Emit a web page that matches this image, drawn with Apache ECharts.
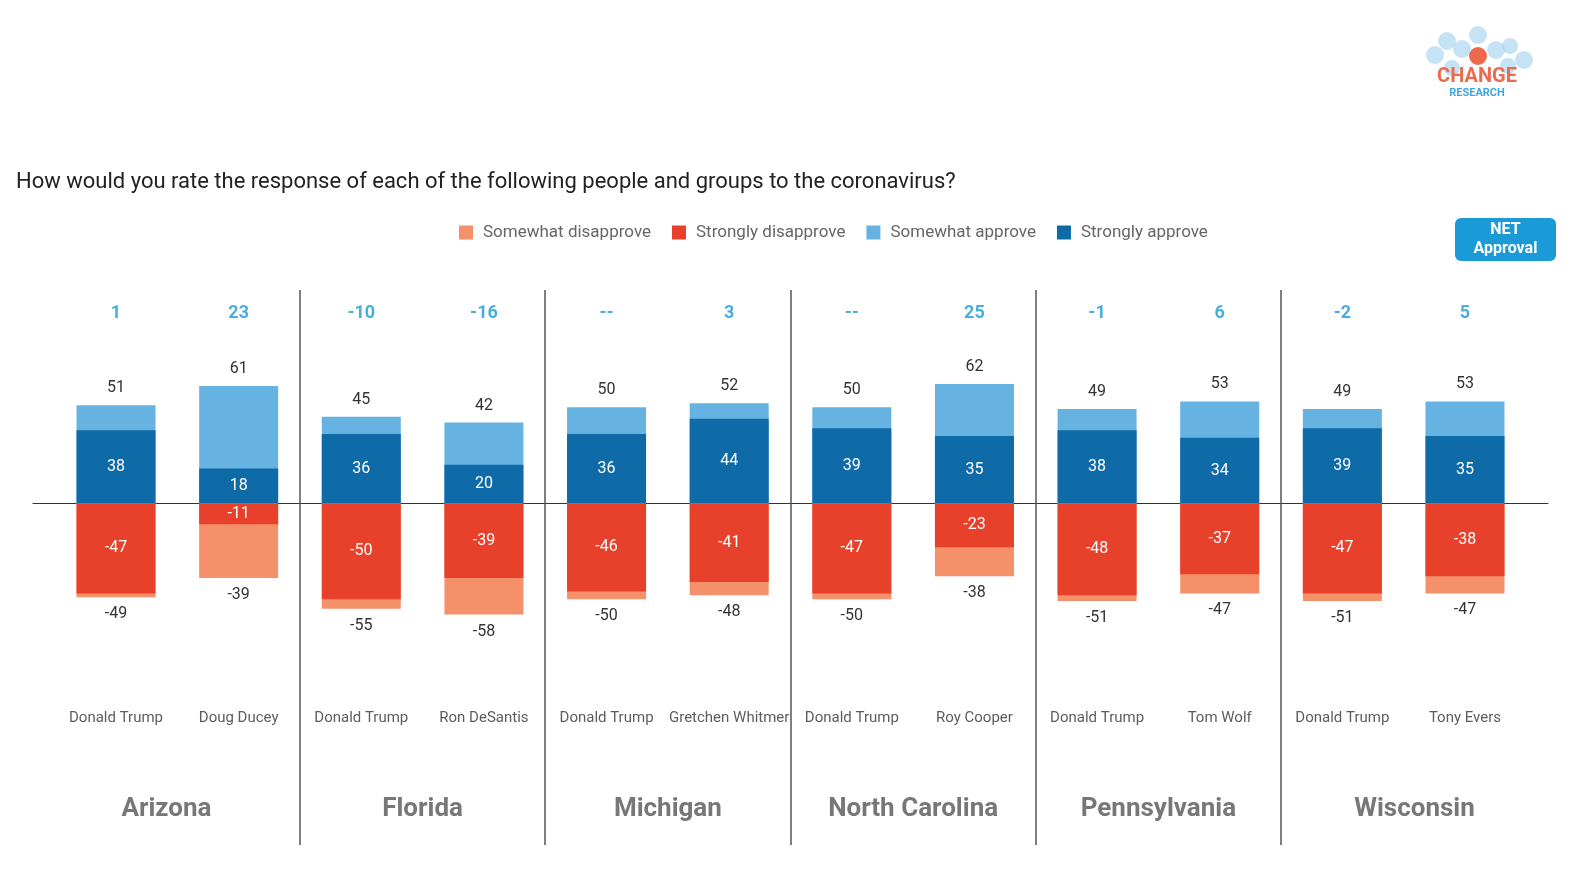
<!DOCTYPE html>
<html>
<head>
<meta charset="utf-8">
<script src="https://cdn.jsdelivr.net/npm/echarts@6/dist/echarts.min.js"></script>
<style>
html,body{margin:0;padding:0;background:#fff;}
#chart{width:1596px;height:876px;}
</style>
</head>
<body>
<div id="chart"></div>
<script>
// ---- data ----
const names = ['Donald Trump','Doug Ducey','Donald Trump','Ron DeSantis','Donald Trump','Gretchen Whitmer','Donald Trump','Roy Cooper','Donald Trump','Tom Wolf','Donald Trump','Tony Evers'];
const states = ['Arizona','Florida','Michigan','North Carolina','Pennsylvania','Wisconsin'];
const totalApprove = [51,61,45,42,50,52,50,62,49,53,49,53];
const strongApprove = [38,18,36,20,36,44,39,35,38,34,39,35];
const totalDisapprove = [-49,-39,-55,-58,-50,-48,-50,-38,-51,-47,-51,-47];
const strongDisapprove = [-47,-11,-50,-39,-46,-41,-47,-23,-48,-37,-47,-38];
const netApproval = ['1','23','-10','-16','--','3','--','25','-1','6','-2','5'];

const FONT = 'Roboto, "Noto Sans", sans-serif';
const C_SA = '#0f6aa8', C_WA = '#66b3e2', C_SD = '#e8412b', C_WD = '#f4916a';

const xMin = -0.677, xMax = 11.677;
const separators = [1.5, 3.5, 5.5, 7.5, 9.5];
const stateBounds = [xMin].concat(separators, [xMax]);
const statePos = states.map((s, i) => (stateBounds[i] + stateBounds[i + 1]) / 2);

const pts = arr => arr.map((v, i) => [i, v]);

const chart = echarts.init(document.getElementById('chart'));

const barBase = {type: 'bar', barWidth: 79, barGap: '-100%'};

chart.setOption({
  animation: false,
  textStyle: {fontFamily: FONT},
  title: {
    text: 'How would you rate the response of each of the following people and groups to the coronavirus?',
    left: 11, top: 166,
    textStyle: {fontFamily: FONT, fontSize: 22, fontWeight: 'normal', color: '#222'}
  },
  legend: {
    data: ['Somewhat disapprove', 'Strongly disapprove', 'Somewhat approve', 'Strongly approve'],
    left: 454, top: 219, itemWidth: 14, itemHeight: 14, itemGap: 21,
    icon: 'rect',
    textStyle: {fontFamily: FONT, fontSize: 17, color: '#666', padding: [0, 0, 0, 5]}
  },
  grid: {left: 33, right: 48, top: 290, bottom: 31},
  xAxis: {
    type: 'value', min: xMin, max: xMax,
    axisLine: {show: true, onZero: true, lineStyle: {color: '#333', width: 1.2}},
    axisTick: {show: false}, axisLabel: {show: false}, splitLine: {show: false}
  },
  yAxis: {
    type: 'value', min: -178, max: 111,
    axisLine: {show: false}, axisTick: {show: false}, axisLabel: {show: false}, splitLine: {show: false}
  },
  series: [
    Object.assign({}, barBase, {
      name: 'Somewhat approve', data: pts(totalApprove), itemStyle: {color: C_WA},
      label: {show: true, position: 'top', distance: 9, fontSize: 16, color: '#333', fontFamily: FONT}
    }),
    Object.assign({}, barBase, {
      name: 'Strongly approve', data: pts(strongApprove), itemStyle: {color: C_SA},
      label: {show: true, position: 'inside', fontSize: 16, color: '#fff', fontFamily: FONT}
    }),
    Object.assign({}, barBase, {
      name: 'Somewhat disapprove', data: pts(totalDisapprove), itemStyle: {color: C_WD},
      label: {show: true, position: 'bottom', distance: 9, fontSize: 16, color: '#333', fontFamily: FONT}
    }),
    Object.assign({}, barBase, {
      name: 'Strongly disapprove', data: pts(strongDisapprove), itemStyle: {color: C_SD},
      label: {show: true, position: 'inside', fontSize: 16, color: '#fff', fontFamily: FONT},
      markLine: {
        silent: true, symbol: 'none', label: {show: false},
        lineStyle: {color: '#555', width: 1.5, type: 'solid'},
        data: separators.map(x => ({xAxis: x}))
      }
    }),
    {
      type: 'scatter', name: 'net', symbolSize: 0, silent: true,
      data: netApproval.map((v, i) => [i, 99]),
      label: {show: true, position: 'inside', fontSize: 18, fontWeight: 'bold', color: '#1a9ad6', fontFamily: FONT,
        formatter: p => netApproval[p.dataIndex]}
    },
    {
      type: 'scatter', name: 'names', symbolSize: 0, silent: true,
      data: names.map((v, i) => [i, -112]),
      label: {show: true, position: 'inside', fontSize: 15, color: '#333', fontFamily: FONT,
        formatter: p => names[p.dataIndex]}
    },
    {
      type: 'scatter', name: 'states', symbolSize: 0, silent: true,
      data: statePos.map(x => [x, -159.5]),
      label: {show: true, position: 'inside', fontSize: 26, fontWeight: 'bold', color: '#555', fontFamily: FONT,
        formatter: p => states[p.dataIndex]}
    }
  ],
  graphic: [
    {type: 'rect', left: 1455, top: 218, shape: {width: 101, height: 43, r: 6}, style: {fill: '#1a9ad6'}},
    {type: 'text', x: 1505.5, y: 239.5, style: {text: 'NET\nApproval', fill: '#fff', font: 'bold 16px ' + FONT, textAlign: 'center', textVerticalAlign: 'middle', lineHeight: 19}},
    {type: 'group', children: [
      {type: 'circle', shape: {cx: 1478, cy: 35, r: 9}, style: {fill: '#9fd0ee', opacity: 0.6}},
      {type: 'circle', shape: {cx: 1447, cy: 41, r: 9}, style: {fill: '#9fd0ee', opacity: 0.6}},
      {type: 'circle', shape: {cx: 1462, cy: 49, r: 9}, style: {fill: '#9fd0ee', opacity: 0.6}},
      {type: 'circle', shape: {cx: 1435, cy: 55, r: 9}, style: {fill: '#9fd0ee', opacity: 0.6}},
      {type: 'circle', shape: {cx: 1496, cy: 50, r: 9}, style: {fill: '#9fd0ee', opacity: 0.6}},
      {type: 'circle', shape: {cx: 1510, cy: 46, r: 8}, style: {fill: '#9fd0ee', opacity: 0.6}},
      {type: 'circle', shape: {cx: 1524, cy: 60, r: 9}, style: {fill: '#9fd0ee', opacity: 0.6}},
      {type: 'circle', shape: {cx: 1452, cy: 68, r: 8}, style: {fill: '#9fd0ee', opacity: 0.6}},
      {type: 'circle', shape: {cx: 1508, cy: 66, r: 8}, style: {fill: '#9fd0ee', opacity: 0.6}},
      {type: 'circle', shape: {cx: 1478, cy: 56, r: 9}, style: {fill: '#ee6a4e'}},
      {type: 'text', x: 1477, y: 77, style: {text: 'CHANGE', fill: '#ec6a4f', font: 'bold 20px ' + FONT, textAlign: 'center', textVerticalAlign: 'middle'}},
      {type: 'text', x: 1477, y: 93, style: {text: 'RESEARCH', fill: '#41a6dc', font: 'bold 11px ' + FONT, textAlign: 'center', textVerticalAlign: 'middle'}}
    ]}
  ]
});
</script>
</body>
</html>
